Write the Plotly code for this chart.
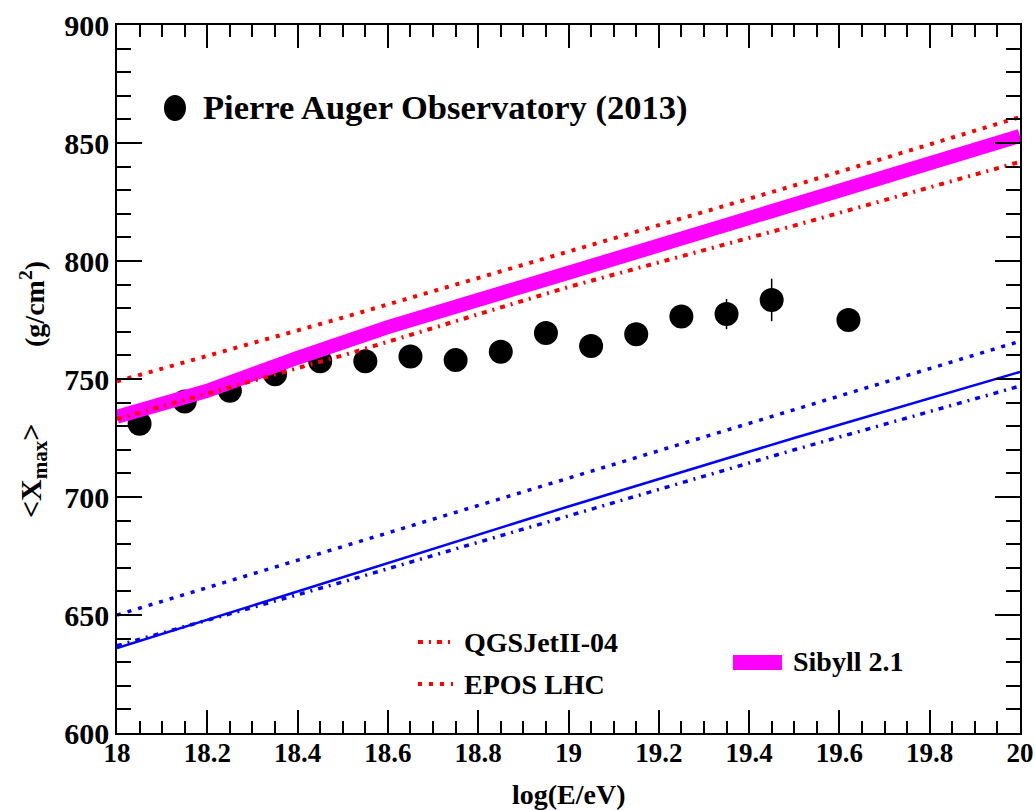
import plotly.graph_objects as go

# ---------------- data ----------------
auger_x = [18.05, 18.15, 18.25, 18.35, 18.45, 18.55, 18.65, 18.75, 18.85,
           18.95, 19.05, 19.15, 19.25, 19.35, 19.45, 19.62]
auger_y = [731, 740.5, 745, 752, 757.5, 757.5, 759.5, 758, 761.5,
           769.5, 764, 769, 776.5, 777.5, 783.5, 775]
auger_err = [1.6, 1.5, 1.5, 1.6, 1.7, 1.9, 2.1, 2.4, 2.8,
             3.2, 3.7, 4.3, 4.8, 6.4, 9.0, 4.5]

model_x = [18.0, 18.5, 19.0, 19.5, 20.0]
epos_p = [749, 776, 804, 832, 861]
qgsjet_p = [733, 760, 789, 815, 842]
epos_fe = [650, 679, 708, 737, 766]
qgsjet_fe = [637, 664, 692, 720, 747]
sibyll_fe = [636, 666, 696, 725, 753]

sibyll_p_x = [18.0, 18.2, 18.4, 18.6, 19.0, 19.5, 20.0]
sibyll_p = [734, 745, 759, 772, 795, 824, 853]

x_ticks = [18, 18.2, 18.4, 18.6, 18.8, 19, 19.2, 19.4, 19.6, 19.8, 20]
y_ticks = [600, 650, 700, 750, 800, 850, 900]

FONT = "Liberation Serif, Times New Roman, serif"
RED = "#ff0000"
BLUE = "#0000ff"
MAGENTA = "#ff00ff"
QGS_DASH = "5px,6px,2px,6px"
EPOS_DASH = "4px,7px"

fig = go.Figure()

# data points
fig.add_trace(go.Scatter(
    x=auger_x, y=auger_y, mode="markers",
    marker=dict(color="black", size=24, symbol="circle"),
    error_y=dict(type="data", array=auger_err, color="black", thickness=1.5, width=0),
    showlegend=False))

# Sibyll 2.1 proton (thick magenta)
fig.add_trace(go.Scatter(x=sibyll_p_x, y=sibyll_p, mode="lines",
                         line=dict(color=MAGENTA, width=14), showlegend=False))

# iron curves
fig.add_trace(go.Scatter(x=model_x, y=sibyll_fe, mode="lines",
                         line=dict(color=BLUE, width=2.5), showlegend=False))
fig.add_trace(go.Scatter(x=model_x, y=epos_fe, mode="lines",
                         line=dict(color=BLUE, width=3.5, dash=EPOS_DASH), showlegend=False))
fig.add_trace(go.Scatter(x=model_x, y=qgsjet_fe, mode="lines",
                         line=dict(color=BLUE, width=3.5, dash=QGS_DASH), showlegend=False))

# proton curves
fig.add_trace(go.Scatter(x=model_x, y=epos_p, mode="lines",
                         line=dict(color=RED, width=4, dash=EPOS_DASH), showlegend=False))
fig.add_trace(go.Scatter(x=model_x, y=qgsjet_p, mode="lines",
                         line=dict(color=RED, width=4, dash=QGS_DASH), showlegend=False))

axis_common = dict(
    showgrid=False, zeroline=False, showline=True, linecolor="black", linewidth=1.5,
    mirror="allticks", ticks="inside", tickcolor="black", tickwidth=1.5,
    automargin=False,
)

fig.update_xaxes(range=[18, 20], tickvals=x_ticks, ticklen=23, ticklabelstandoff=-5,
                 tickfont=dict(family=FONT, size=27, color="black", weight="bold"),
                 minor=dict(dtick=0.05, tick0=18, ticks="inside", ticklen=12,
                            tickcolor="black", tickwidth=1.5),
                 **axis_common)
fig.update_yaxes(range=[600, 900], tickvals=y_ticks, ticklen=25,
                 tickfont=dict(family=FONT, size=30, color="black", weight="bold"),
                 minor=dict(dtick=10, tick0=600, ticks="inside", ticklen=14,
                            tickcolor="black", tickwidth=1.5),
                 **axis_common)

annots = []
# axis titles
annots.append(dict(text="log(E/eV)", xref="paper", yref="paper", x=0.5, y=-0.062,
                   xanchor="center", yanchor="top", showarrow=False,
                   font=dict(family=FONT, size=28, color="black", weight="bold")))
annots.append(dict(text="<X<sub>max</sub>>", xref="paper", yref="paper",
                   x=-0.093, y=0.370, xanchor="center", yanchor="middle",
                   textangle=-90, showarrow=False,
                   font=dict(family=FONT, size=30, color="black", weight="bold")))
annots.append(dict(text="(g/cm<sup>2</sup>)", xref="paper", yref="paper",
                   x=-0.093, y=0.606, xanchor="center", yanchor="middle",
                   textangle=-90, showarrow=False,
                   font=dict(family=FONT, size=28, color="black", weight="bold")))
# legends
annots.append(dict(text="Pierre Auger Observatory (2013)", xref="paper", yref="paper",
                   x=0.093, y=0.8828, xanchor="left", yanchor="middle", showarrow=False,
                   font=dict(family=FONT, size=34.5, color="black", weight="bold")))
annots.append(dict(text="QGSJetII-04", xref="paper", yref="paper",
                   x=0.382, y=0.1285, xanchor="left", yanchor="middle", showarrow=False,
                   font=dict(family=FONT, size=28, color="black", weight="bold")))
annots.append(dict(text="EPOS LHC", xref="paper", yref="paper",
                   x=0.382, y=0.0692, xanchor="left", yanchor="middle", showarrow=False,
                   font=dict(family=FONT, size=28, color="black", weight="bold")))
annots.append(dict(text="Sibyll 2.1", xref="paper", yref="paper",
                   x=0.746, y=0.1003, xanchor="left", yanchor="middle", showarrow=False,
                   font=dict(family=FONT, size=28, color="black", weight="bold")))

shapes = [
    dict(type="circle", xref="paper", yref="paper", xsizemode="pixel", ysizemode="pixel",
         xanchor=0.0642, yanchor=0.8828, x0=-11, x1=11, y0=-13, y1=13,
         fillcolor="black", line=dict(width=0)),
    dict(type="line", xref="paper", yref="paper", x0=0.3333, x1=0.3721, y0=0.1285, y1=0.1285,
         line=dict(color=RED, width=4, dash=QGS_DASH)),
    dict(type="line", xref="paper", yref="paper", x0=0.3333, x1=0.3721, y0=0.0692, y1=0.0692,
         line=dict(color=RED, width=4, dash=EPOS_DASH)),
    dict(type="rect", xref="paper", yref="paper", x0=0.6822, x1=0.7364, y0=0.0890, y1=0.1102,
         fillcolor=MAGENTA, line=dict(width=0)),
]

fig.update_layout(
    width=1035, height=810,
    margin=dict(l=117, r=15, t=25, b=77),
    paper_bgcolor="white", plot_bgcolor="white",
    annotations=annots, shapes=shapes, showlegend=False,
)

fig.write_html("out.html")
